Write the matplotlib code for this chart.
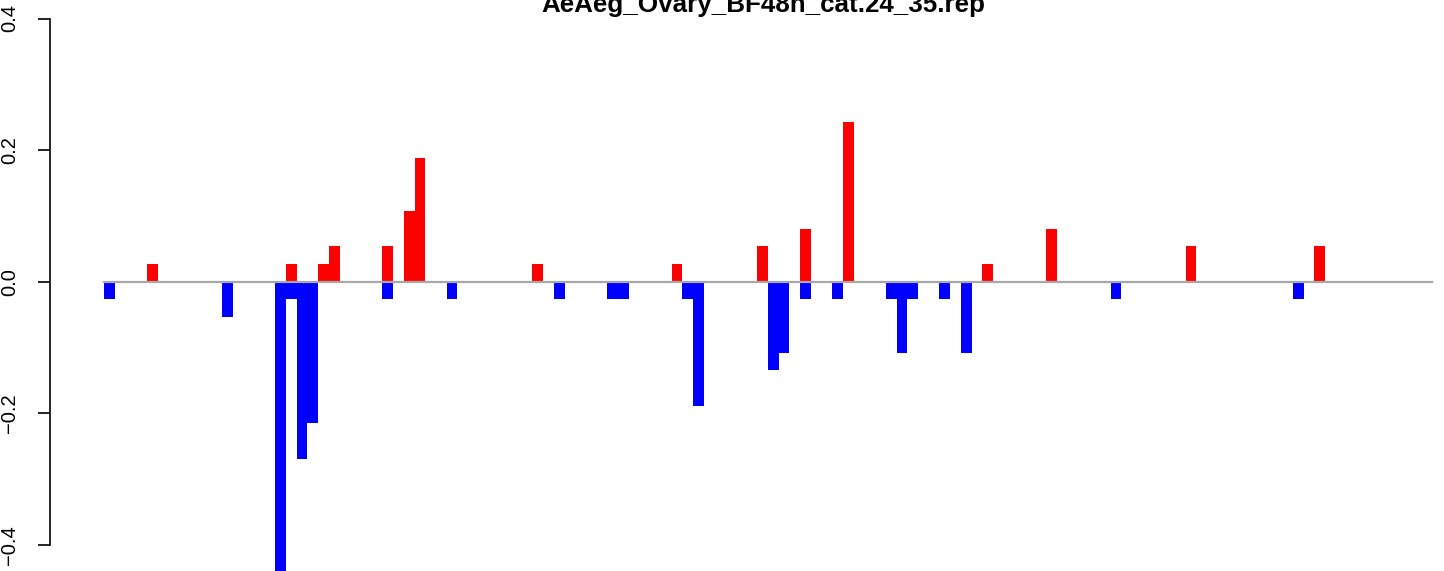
import matplotlib
matplotlib.use("Agg")
import matplotlib.pyplot as plt

plt.rcParams['font.family'] = ['Liberation Sans', 'DejaVu Sans']

# one unit of the scores
u = 0.0269

n_slots = 124
# slot index -> number of units (positive = red, negative = blue)
pos_slots = [4, 17, 20, 21, 26, 28, 29, 40, 53, 61, 65, 69, 82, 88, 101, 113]
pos_units = [1, 1, 1, 2, 2, 4, 7, 1, 1, 2, 3, 9, 1, 3, 2, 2]
neg_slots = [0, 11, 16, 17, 18, 19, 26, 32, 42, 47, 48, 54, 55, 62, 63, 65,
             68, 73, 74, 75, 78, 80, 94, 111]
neg_units = [-1, -2, -17, -1, -10, -8, -1, -1, -1, -1, -1, -1, -7, -5, -4, -1,
             -1, -1, -4, -1, -1, -4, -1, -1]

title = "AeAeg_Ovary_BF48h_cat.24_35.rep"
yticks = [-0.4, -0.2, 0.0, 0.2, 0.4]
ytick_labels = ["\u22120.4", "\u22120.2", "0.0", "0.2", "0.4"]

W, H = 1444, 571
fig = plt.figure(figsize=(W / 100, H / 100), dpi=100)
ax = fig.add_axes([50 / W, 0, (W - 50) / W, 1])

# pixel geometry of the original: slot 0 at x=104, 10.71 px per slot, zero at y=281.7, 658 px per unit
x0, dx = 104, 10.71
y0, dy = 281.7, 658
ax.set_xlim((50 - x0) / dx, (W - x0) / dx)
ax.set_ylim((y0 - H) / dy, y0 / dy)

ax.bar(pos_slots, [v * u for v in pos_units], width=1, align='edge',
       color='#FF0000', linewidth=0)
ax.bar(neg_slots, [v * u for v in neg_units], width=1, align='edge',
       color='#0000FF', linewidth=0)
ax.plot([0, n_slots], [0, 0], color='#A8A8A8', linewidth=1.6, zorder=3)

for s in ['top', 'right', 'bottom']:
    ax.spines[s].set_visible(False)
ax.spines['left'].set_bounds(-0.4, 0.4)
ax.spines['left'].set_linewidth(1.2)
ax.set_xticks([])
ax.set_yticks(yticks)
ax.set_yticklabels(ytick_labels, rotation=90, va='center', fontsize=14.5)
ax.tick_params(axis='y', length=9, width=1.2, pad=13)

fig.text(763 / W, 1 - 12 / H, title, ha='center', va='baseline',
         fontsize=18.7, fontweight='bold')

fig.savefig("out.png", dpi=100)
